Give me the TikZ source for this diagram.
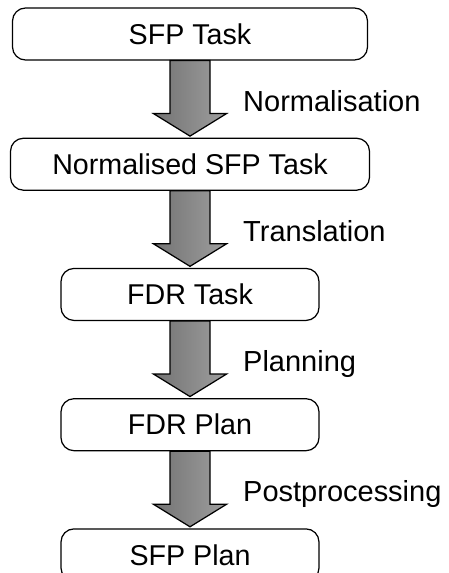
\documentclass[tikz,border=0pt]{standalone}
\usepackage{fontspec}
\setmainfont{Liberation Sans}
\usetikzlibrary{positioning}
\usetikzlibrary{calc}

\tikzset{
  stage/.style={draw, rounded corners=0.26cm, line width=0.7pt, minimum height=1.04cm, inner sep=0pt, font=\fontsize{16.3}{20}\selectfont},
  bigarrow/.style={draw, line width=0.7pt, left color=black!55, right color=black!38, line join=miter},
  steplabel/.style={anchor=base west, font=\fontsize{16.5}{20}\selectfont}
}

\begin{document}
\begin{tikzpicture}
    \useasboundingbox (0,0) rectangle (8.98,11.46);

    % Stages of the pipeline
    \node[stage, minimum width=7.1cm] (sfptask) at (3.8,10.78) {SFP Task};
    \node[stage, minimum width=7.18cm, below=1.54cm of sfptask] (normtask) {Normalised SFP Task};
    \node[stage, minimum width=5.16cm, below=1.54cm of normtask] (fdrtask) {FDR Task};
    \node[stage, minimum width=5.16cm, below=1.54cm of fdrtask] (fdrplan) {FDR Plan};
    \node[stage, minimum width=5.16cm, below=1.54cm of fdrplan] (sfpplan) {SFP Plan};

    % Block arrows with their labels
    \foreach \a/\b/\txt in {sfptask/normtask/Normalisation, normtask/fdrtask/Translation, fdrtask/fdrplan/Planning, fdrplan/sfpplan/Postprocessing} {
        \draw[bigarrow] ($(\a.south)+(-0.4,0)$) -- ($(\b.north)+(-0.4,0.48)$) -- ($(\b.north)+(-0.73,0.48)$)
            -- ($(\b.north)+(0,0.03)$) -- ($(\b.north)+(0.73,0.48)$) -- ($(\b.north)+(0.4,0.48)$)
            -- ($(\a.south)+(0.4,0)$) -- cycle;
        \node[steplabel] (lbl-\b) at ($(\a.south)!0.5!(\b.north)+(0.94,-0.24)$) {\txt};
    }
\end{tikzpicture}
\end{document}
